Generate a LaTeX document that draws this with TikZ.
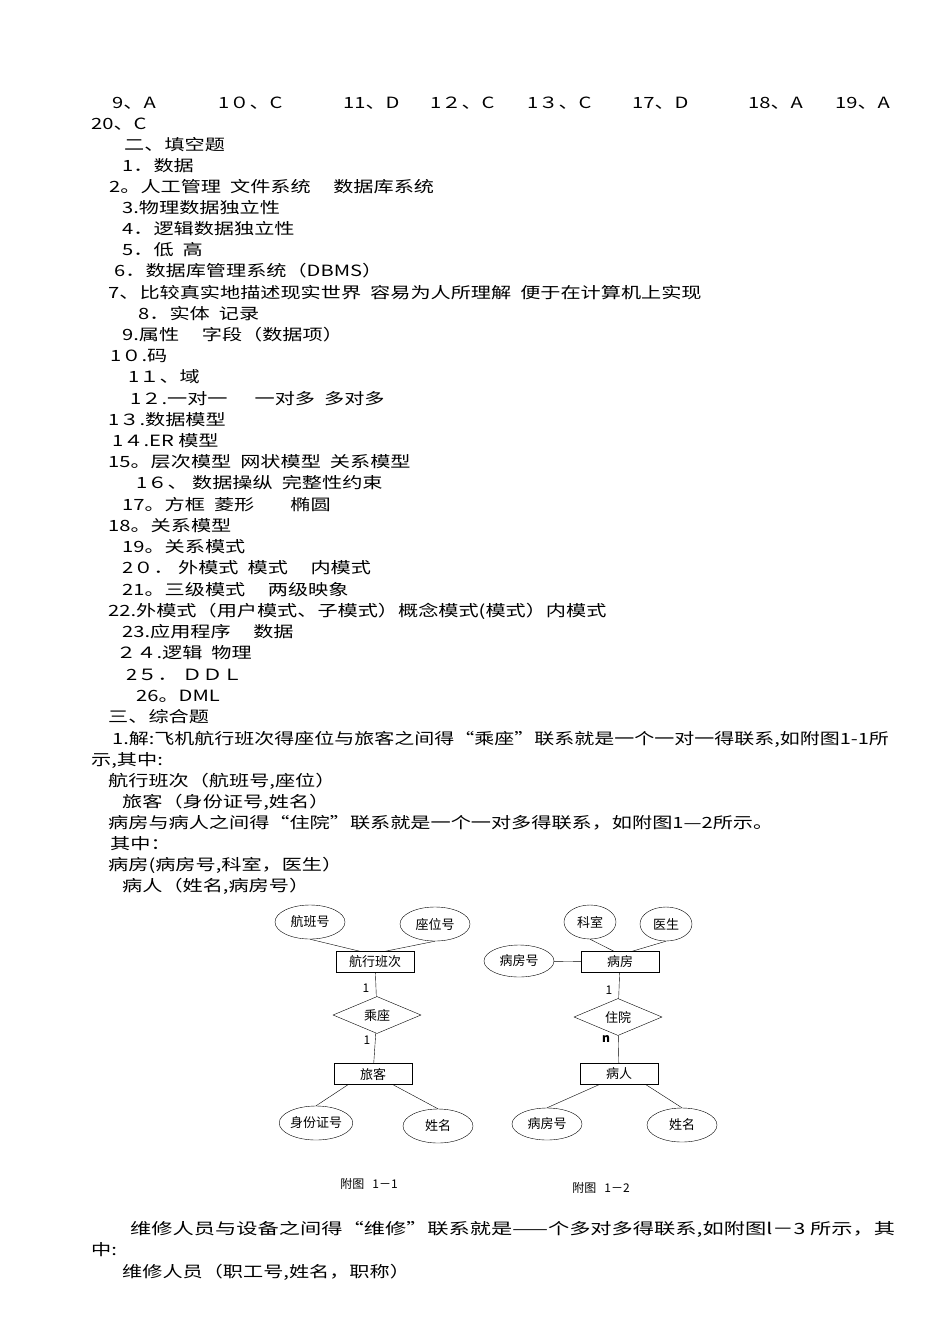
\documentclass[tikz,border=0pt]{standalone}
\usepackage{fontspec}
\setmainfont{Noto Sans CJK SC}
\usetikzlibrary{shapes.geometric}
\newcommand{\W}[1]{\scalebox{1.3}[1]{#1}}
\begin{document}
\begin{tikzpicture}[x=1pt,y=-1pt,
  t/.style={anchor=base west,inner sep=0pt,font=\fontsize{15.5}{18}\selectfont},
  ent/.style={draw,minimum width=78pt,minimum height=21pt,inner sep=0pt,font=\fontsize{13}{15}\selectfont},
  att/.style={draw,ellipse,minimum width=70pt,minimum height=34pt,inner sep=0pt,font=\fontsize{13}{15}\selectfont},
  rel/.style={draw,diamond,aspect=2.4,minimum width=88pt,minimum height=37pt,inner sep=0pt,font=\fontsize{13}{15}\selectfont},
  lab/.style={inner sep=0pt,font=\fontsize{12}{14}\selectfont}]
\useasboundingbox (0,0) rectangle (950,1344);
\foreach \x/\s [count=\i] in {112/9、A,218/1０、C,343/11、D,430/1２、C,527/1３、C,632/17、D,748/18、A,835/19、A}
  \node[t] (h\i) at (\x,108) {\W{\s}};
\node[t] (l1) at (91,129) {\W{20、C}};
\node[t] (l2) at (124,150) {\W{二、填空题}};
\node[t] (l3) at (122,171) {\W{1．数据}};
\node[t] (l4) at (109,192) {\W{2。人工管理\ \ 文件系统\ \ \ \ \ 数据库系统}};
\node[t] (l5) at (122,213) {\W{3.物理数据独立性}};
\node[t] (l6) at (122,234) {\W{4．逻辑数据独立性}};
\node[t] (l7) at (122,255) {\W{5．低\ \ 高}};
\node[t] (l8) at (114,276) {\W{6．数据库管理系统（DBMS）}};
\node[t] (l9) at (108,298) {\W{7、比较真实地描述现实世界\ \ 容易为人所理解\ \ 便于在计算机上实现}};
\node[t] (l10) at (138,319) {\W{8．实体\ \ 记录}};
\node[t] (l11) at (122,340) {\W{9.属性\ \ \ \ \ 字段（数据项）}};
\node[t] (l12) at (110,361) {\W{1０.码}};
\node[t] (l13) at (128,382) {\W{1１、域}};
\node[t] (l14) at (130,404) {\W{1２.一对一\ \ \ \ \ \ 一对多\ \ 多对多}};
\node[t] (l15) at (108,425) {\W{1３.数据模型}};
\node[t] (l16) at (112,446) {\W{1４.ER 模型}};
\node[t] (l17) at (108,467) {\W{15。层次模型\ \ 网状模型\ \ 关系模型}};
\node[t] (l18) at (136,488) {\W{1６、 数据操纵\ \ 完整性约束}};
\node[t] (l19) at (122,510) {\W{17。方框\ \ 菱形\ \ \ \ \ \ \ \ 椭圆}};
\node[t] (l20) at (108,531) {\W{18。关系模型}};
\node[t] (l21) at (122,552) {\W{19。关系模式}};
\node[t] (l22) at (122,573) {\W{2０． 外模式\ \ 模式\ \ \ \ \ 内模式}};
\node[t] (l23) at (122,595) {\W{21。三级模式\ \ \ \ \ 两级映象}};
\node[t] (l24) at (108,616) {\W{22.外模式（用户模式、子模式）概念模式(模式）内模式}};
\node[t] (l25) at (122,637) {\W{23.应用程序\ \ \ \ \ 数据}};
\node[t] (l26) at (116,658) {\W{２４.逻辑\ \ 物理}};
\node[t] (l27) at (126,680) {\W{2５． ＤＤＬ}};
\node[t] (l28) at (136,701) {\W{26。DML}};
\node[t] (l29) at (108,722) {\W{三、综合题}};
\node[t] (l30) at (112,744) {\scalebox{1.29}[1]{1.解:飞机航行班次得座位与旅客之间得“乘座”联系就是一个一对一得联系,如附图1-1所}};
\node[t] (l31) at (91,765) {\W{示,其中:}};
\node[t] (l32) at (108,786) {\W{航行班次（航班号,座位）}};
\node[t] (l33) at (122,807) {\W{旅客（身份证号,姓名）}};
\node[t] (l34) at (108,828) {\W{病房与病人之间得“住院”联系就是一个一对多得联系，如附图1—2所示。}};
\node[t] (l35) at (110,849) {\W{其中：}};
\node[t] (l36) at (108,870) {\W{病房(病房号,科室，医生）}};
\node[t] (l37) at (122,891) {\W{病人（姓名,病房号）}};
\node[t] (l38) at (130,1234) {\scalebox{1.37}[1]{维修人员与设备之间得“维修”联系就是——个多对多得联系,如附图l－3 所示，其}};
\node[t] (l39) at (91,1255) {\W{中:}};
\node[t] (l40) at (122,1277) {\W{维修人员（职工号,姓名，职称）}};
% Figure 1-1
\node[att] (a1) at (310,922) {航班号};
\node[att] (a2) at (435,924) {座位号};
\node[ent] (e1) at (375,962) {航行班次};
\node[rel] (r1) at (377,1015) {乘座};
\node[ent] (e2) at (373,1074) {旅客};
\node[att] (a3) at (316,1123) {身份证号};
\node[att] (a4) at (438,1126) {姓名};
\draw (a1.south) -- ([xshift=-15pt]e1.north);
\draw (a2.south) -- ([xshift=10pt]e1.north);
\draw (e1) -- (r1);
\draw (r1) -- (e2);
\draw ([xshift=-25pt]e2.south) -- (a3.north);
\draw ([xshift=20pt]e2.south) -- (a4.north);
\node[lab] (n1) at (366,988) {1};
\node[lab] (n2) at (367,1040) {1};
\node[lab] (f1) at (369,1184) {附图\ \ \ 1－1};
% Figure 1-2
\node[att,minimum width=52pt] (b1) at (590,922) {科室};
\node[att,minimum width=52pt] (b2) at (666,924) {医生};
\node[ent] (g1) at (620,962) {病房};
\node[att,minimum height=32pt] (b3) at (519,961) {病房号};
\node[rel] (r2) at (618,1017) {住院};
\node[ent] (g2) at (619,1074) {病人};
\node[att,minimum height=32pt] (b4) at (547,1124) {病房号};
\node[att] (b5) at (682,1125) {姓名};
\draw (b1.south) -- ([xshift=-6pt]g1.north);
\draw (b2.south) -- ([xshift=12pt]g1.north);
\draw (b3) -- (g1);
\draw (g1) -- (r2);
\draw (r2) -- (g2);
\draw ([xshift=-20pt]g2.south) -- (b4.north);
\draw ([xshift=27pt]g2.south) -- (b5.north);
\node[lab] (n3) at (609,990) {1};
\node[lab] (n4) at (606,1039) {\textbf{n}};
\node[lab] (f2) at (601,1188) {附图\ \ \ 1－2};
\end{tikzpicture}
\end{document}
